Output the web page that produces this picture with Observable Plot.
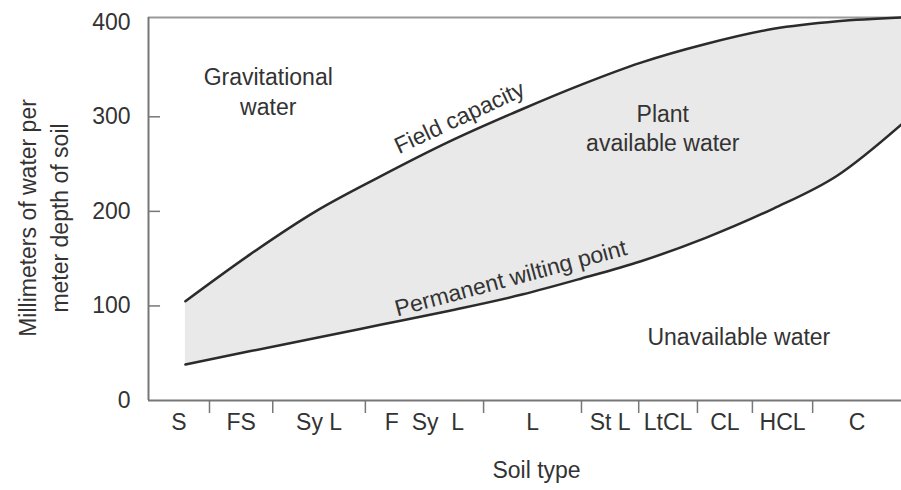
<!DOCTYPE html>
<html>
<head>
<meta charset="utf-8">
<script src="https://cdn.jsdelivr.net/npm/d3@7"></script>
<script src="https://cdn.jsdelivr.net/npm/@observablehq/plot@0.6"></script>
<style>
  html, body { margin: 0; padding: 0; background: #fff; }
</style>
</head>
<body>
<div id="chart"></div>
<script>
// Soil texture classes along the x axis (relative widths as drawn)
const categories = ["S", "FS", "Sy L", "F\u00a0 Sy\u00a0 L", "L", "St L", "LtCL", "CL", "HCL", "C"];
const boundaries = [0, 8.1, 16.5, 28.8, 44.5, 57.5, 65.1, 72.9, 80.2, 88.2, 100];
// Sample positions along the soil-type axis
const xPos = [4.9, 13.4, 22.2, 30.8, 40, 49.6, 57.5, 65.3, 74, 83, 91.5, 100];
// Millimeters of water per meter depth of soil
const fieldCapacity = [105, 154, 200, 237, 274, 308, 334, 357, 377, 393, 401, 405];
const wiltingPoint  = [38, 52, 66, 80, 95, 112, 129, 147, 172, 203, 238, 292];
const yTicks = [0, 100, 200, 300, 400];

const curveData = xPos.map((x, i) => ({x, fc: fieldCapacity[i], wp: wiltingPoint[i]}));
const catData = categories.map((c, i) => ({c, mid: (boundaries[i] + boundaries[i + 1]) / 2}));

const textColor = "#333";
const axisColor = "#777";
const fs = 23;
const curve = "monotone-x";

const chart = Plot.plot({
  width: 901,
  height: 490,
  marginLeft: 148,
  marginRight: 0,
  marginTop: 17,
  marginBottom: 90,
  style: {fontFamily: "'Liberation Sans', Arial, sans-serif", fontSize: fs + "px", color: textColor, background: "#fff"},
  x: {domain: [0, 100], axis: null},
  y: {domain: [0, 405], axis: null},
  marks: [
    Plot.areaY(curveData, {x: "x", y1: "wp", y2: "fc", curve, fill: "#e9e9e9"}),
    // frame lines
    Plot.ruleY([405], {stroke: "#999", strokeWidth: 2}),
    Plot.ruleX([0], {stroke: axisColor, strokeWidth: 2}),
    Plot.ruleY([0], {stroke: axisColor, strokeWidth: 2}),
    // inward y ticks
    Plot.ruleY(yTicks.filter(d => d > 0 && d < 400), {x1: 0, x2: 1.6, stroke: axisColor, strokeWidth: 1.5}),
    Plot.axisY(yTicks, {tickSize: 0, tickPadding: 18, fontSize: fs, fill: textColor}),
    // category separators
    Plot.axisX(boundaries.slice(1, -1), {tickSize: 13, tickFormat: () => "", stroke: axisColor, strokeWidth: 1.5}),
    Plot.text(catData, {x: "mid", y: 0, text: "c", dy: 22, fontSize: fs, fill: textColor, lineAnchor: "middle"}),
    // curves
    Plot.line(curveData, {x: "x", y: "fc", curve, stroke: "#2b2b2b", strokeWidth: 2.5}),
    Plot.line(curveData, {x: "x", y: "wp", curve, stroke: "#2b2b2b", strokeWidth: 2.5}),
    // region annotations
    Plot.text(["Gravitational\nwater"], {x: 15.9, y: 328, text: d => d, fontSize: fs, fill: textColor, lineHeight: 1.3, lineAnchor: "middle"}),
    Plot.text(["Plant\navailable water"], {x: 68.3, y: 289, text: d => d, fontSize: fs, fill: textColor, lineHeight: 1.26, lineAnchor: "middle"}),
    Plot.text(["Unavailable water"], {x: 78.4, y: 67, text: d => d, fontSize: fs, fill: textColor, lineAnchor: "middle"}),
    Plot.text(["Field capacity"], {x: 41.3, y: 299, text: d => d, fontSize: fs, fill: textColor, rotate: -25, lineAnchor: "middle"}),
    Plot.text(["Permanent wilting point"], {x: 48.1, y: 129, text: d => d, fontSize: fs, fill: textColor, rotate: -15, lineAnchor: "middle"}),
    // axis titles
    Plot.text(["Millimeters of water per\nmeter depth of soil"], {frameAnchor: "left", textAnchor: "middle", text: d => d, rotate: -90, dx: -107, dy: 9, fontSize: fs, fill: textColor, lineHeight: 1.39, lineAnchor: "middle"}),
    Plot.text(["Soil type"], {frameAnchor: "bottom", textAnchor: "middle", text: d => d, dx: 11.5, dy: 70, fontSize: fs, fill: textColor, lineAnchor: "middle"})
  ]
});
document.getElementById("chart").appendChild(chart);
</script>
</body>
</html>
